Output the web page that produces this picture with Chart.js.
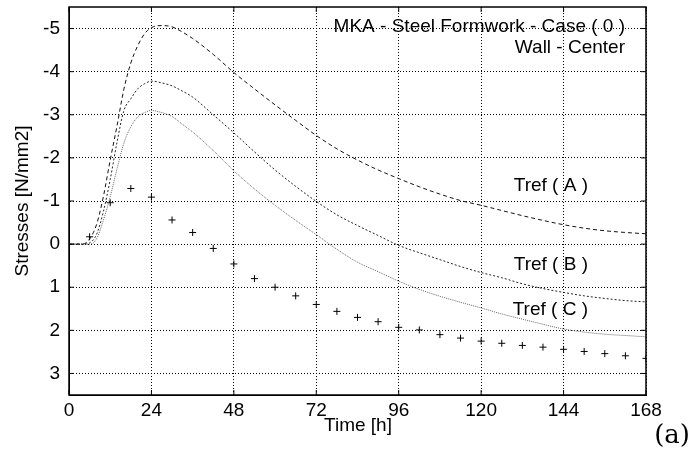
<!DOCTYPE html>
<html>
<head>
<meta charset="utf-8">
<script src="https://cdn.jsdelivr.net/npm/chart.js@4.4.0/dist/chart.umd.min.js"></script>
<style>
  html, body { margin: 0; padding: 0; background: #fff; }
  #wrap { width: 691px; height: 458px; }
</style>
</head>
<body>
<div id="wrap"><canvas id="c" width="691" height="458"></canvas></div>
<script>
// time [h] for the computed curves
var tCurve = [0, 2, 4, 6, 8, 10, 12, 14, 16, 18, 20, 22, 24, 27, 30, 33, 36, 42, 48, 54, 60, 66, 72, 78, 84, 90, 96, 102, 108, 114, 120, 126, 132, 138, 144, 150, 156, 162, 168];

// Tref (A) - dashed
var trefA = [0, 0, 0, -0.12, -0.45, -1.1, -1.95, -2.75, -3.6, -4.2, -4.6, -4.88, -5.02, -5.07, -5.04, -4.92, -4.77, -4.4, -3.98, -3.6, -3.23, -2.87, -2.52, -2.21, -1.95, -1.72, -1.52, -1.33, -1.16, -1.01, -0.9, -0.78, -0.66, -0.55, -0.45, -0.37, -0.31, -0.27, -0.24];
// Tref (B) - dotted
var trefB = [0, 0, 0, -0.03, -0.22, -0.75, -1.5, -2.37, -3.1, -3.37, -3.6, -3.72, -3.78, -3.74, -3.67, -3.55, -3.41, -3.0, -2.58, -2.14, -1.72, -1.34, -0.99, -0.68, -0.43, -0.2, 0.03, 0.2, 0.36, 0.52, 0.66, 0.78, 0.92, 1.03, 1.12, 1.2, 1.26, 1.31, 1.34];
// Tref (C) - fine dotted
var trefC = [0, 0, 0, 0, -0.12, -0.55, -1.1, -1.75, -2.35, -2.72, -2.95, -3.05, -3.1, -3.05, -2.96, -2.78, -2.6, -2.17, -1.7, -1.28, -0.9, -0.55, -0.22, 0.12, 0.42, 0.64, 0.86, 1.05, 1.21, 1.35, 1.48, 1.62, 1.74, 1.86, 1.97, 2.04, 2.09, 2.12, 2.15];

// measured stresses (+ markers)
var tMeas = [6, 12, 18, 24, 30, 36, 42, 48, 54, 60, 66, 72, 78, 84, 90, 96, 102, 108, 114, 120, 126, 132, 138, 144, 150, 156, 162, 168];
var measured = [-0.17, -0.96, -1.29, -1.09, -0.56, -0.27, 0.10, 0.46, 0.80, 1.0, 1.20, 1.40, 1.56, 1.70, 1.80, 1.93, 1.99, 2.10, 2.18, 2.25, 2.30, 2.35, 2.39, 2.44, 2.49, 2.54, 2.59, 2.65];

var xTicks = [0, 24, 48, 72, 96, 120, 144, 168];
var yTicks = [-5, -4, -3, -2, -1, 0, 1, 2, 3];

function pts(xs, ys) {
  return xs.map(function (x, i) { return { x: x, y: ys[i] }; });
}

var FONT = "'Liberation Sans', Arial, Helvetica, sans-serif";

// frame, inward ticks and text labels
var decor = {
  id: 'decor',
  afterDraw: function (chart) {
    var ctx = chart.ctx, a = chart.chartArea;
    var xs = chart.scales.x, ys = chart.scales.y;
    ctx.save();
    ctx.strokeStyle = '#000';
    ctx.lineWidth = 1;
    xTicks.forEach(function (v) {
      var px = xs.getPixelForValue(v);
      ctx.beginPath();
      ctx.moveTo(px, a.top); ctx.lineTo(px, a.top + 5);
      ctx.moveTo(px, a.bottom); ctx.lineTo(px, a.bottom - 5);
      ctx.stroke();
    });
    yTicks.forEach(function (v) {
      var py = ys.getPixelForValue(v);
      ctx.beginPath();
      ctx.moveTo(a.left, py); ctx.lineTo(a.left + 5, py);
      ctx.moveTo(a.right, py); ctx.lineTo(a.right - 5, py);
      ctx.stroke();
    });
    ctx.lineWidth = 1.5;
    ctx.strokeRect(a.left, a.top, a.right - a.left, a.bottom - a.top);

    ctx.fillStyle = '#000';
    ctx.font = '19px ' + FONT;
    ctx.textBaseline = 'middle';
    ctx.textAlign = 'right';
    ctx.fillText('MKA - Steel Formwork - Case ( 0 )', 625, 27);
    ctx.fillText('Wall - Center', 625, 48);
    ctx.fillText('Tref ( A )', 588, 186);
    ctx.fillText('Tref ( B )', 588, 265);
    ctx.fillText('Tref ( C )', 588, 310);

    ctx.textAlign = 'center';
    ctx.fillText('Time [h]', 358, 426);
    ctx.save();
    ctx.translate(23, (a.top + a.bottom) / 2);
    ctx.rotate(-Math.PI / 2);
    ctx.fillText('Stresses [N/mm2]', 0, 0);
    ctx.restore();

    ctx.font = "26px 'DejaVu Serif', 'Liberation Serif', serif";
    ctx.textAlign = 'right';
    ctx.textBaseline = 'alphabetic';
    ctx.fillText('(a)', 690, 443);
    ctx.restore();
  }
};

new Chart(document.getElementById('c'), {
  type: 'line',
  data: {
    datasets: [
      {
        label: 'Tref ( A )',
        data: pts(tCurve, trefA),
        borderColor: '#111',
        borderWidth: 1,
        borderDash: [4, 3],
        pointRadius: 0,
        cubicInterpolationMode: 'monotone'
      },
      {
        label: 'Tref ( B )',
        data: pts(tCurve, trefB),
        borderColor: '#222',
        borderWidth: 1,
        borderDash: [2, 2],
        pointRadius: 0,
        cubicInterpolationMode: 'monotone'
      },
      {
        label: 'Tref ( C )',
        data: pts(tCurve, trefC),
        borderColor: '#666',
        borderWidth: 1,
        borderDash: [1, 1],
        pointRadius: 0,
        cubicInterpolationMode: 'monotone'
      },
      {
        label: 'Measured',
        data: pts(tMeas, measured),
        showLine: false,
        pointStyle: 'cross',
        pointRadius: 3.5,
        borderColor: '#000',
        borderWidth: 1
      }
    ]
  },
  options: {
    responsive: false,
    animation: false,
    layout: { padding: { top: 7, right: 45, left: 0, bottom: 0 } },
    plugins: { legend: { display: false }, tooltip: { enabled: false } },
    scales: {
      x: {
        type: 'linear',
        min: 0,
        max: 168,
        afterBuildTicks: function (s) { s.ticks = xTicks.map(function (v) { return { value: v }; }); },
        afterFit: function (s) { s.height = 63; s.paddingLeft = 0; s.paddingRight = 0; },
        ticks: { color: '#000', font: { family: FONT, size: 19 }, padding: 4, maxRotation: 0 },
        grid: { color: '#000', lineWidth: 1, drawTicks: false },
        border: { display: true, color: '#000', dash: [1, 2] }
      },
      y: {
        type: 'linear',
        reverse: true,
        min: -5.5,
        max: 3.5,
        afterBuildTicks: function (s) { s.ticks = yTicks.map(function (v) { return { value: v }; }); },
        afterFit: function (s) { s.width = 69; s.paddingTop = 0; s.paddingBottom = 0; },
        ticks: { color: '#000', font: { family: FONT, size: 19 }, padding: 9 },
        grid: { color: '#000', lineWidth: 1, drawTicks: false },
        border: { display: true, color: '#000', dash: [1, 2] }
      }
    }
  },
  plugins: [decor]
});
</script>
</body>
</html>
